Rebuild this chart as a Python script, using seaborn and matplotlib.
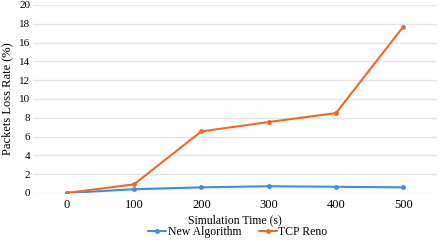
import matplotlib
matplotlib.use('Agg')
import matplotlib.pyplot as plt
import pandas as pd
import seaborn as sns

times = ['0', '100', '200', '300', '400', '500']
new_algorithm = [0.0, 0.4, 0.6, 0.72, 0.66, 0.6]
tcp_reno = [0.0, 0.92, 6.55, 7.55, 8.5, 17.7]
series_names = ['New Algorithm', 'TCP Reno']
colors = ['#3E8EDB', '#EE6A24']

df = pd.DataFrame({
    'time': times * 2,
    'loss': new_algorithm + tcp_reno,
    'series': [series_names[0]] * len(times) + [series_names[1]] * len(times),
})

sns.set_style('white')
plt.rcParams['font.family'] = ['Liberation Serif', 'DejaVu Serif']
plt.rcParams['text.color'] = 'black'
plt.rcParams['axes.labelcolor'] = 'black'
plt.rcParams['xtick.color'] = 'black'
plt.rcParams['ytick.color'] = 'black'

fig = plt.figure(figsize=(4.41, 2.40), dpi=100)
ax = fig.add_axes([33 / 441, 1 - 193 / 240, 404 / 441, 188 / 240])

sns.lineplot(data=df, x='time', y='loss', hue='series', palette=colors,
             marker='o', markersize=3.5, markeredgewidth=0, linewidth=1.5,
             sort=False, ax=ax)

ax.set_xlim(-0.5, 5.5)
ax.set_ylim(0, 20)
ax.set_yticks(range(0, 21, 2))
ax.yaxis.grid(True, color='#E6E6E6', linewidth=1)
ax.set_axisbelow(True)
for s in ax.spines.values():
    s.set_visible(False)
ax.tick_params(axis='y', length=0, labelsize=8, pad=2)
ax.tick_params(axis='x', length=0, labelsize=9, pad=4.5)
ax.set_xlabel('Simulation Time (s)', fontsize=8.5, labelpad=2)
ax.set_ylabel('Packets Loss Rate (%)', fontsize=9, labelpad=4)

# legend below the x label, centred like the original
handles, labels = ax.get_legend_handles_labels()
ax.get_legend().remove()
fig.legend(handles, labels, loc='center',
           bbox_to_anchor=(238 / 441, 1 - 232 / 240), ncol=2,
           frameon=False, fontsize=8.5, handlelength=1.5, columnspacing=1.5,
           handletextpad=0.15, borderpad=0)

fig.savefig('out.png', dpi=100)
plt.close()
